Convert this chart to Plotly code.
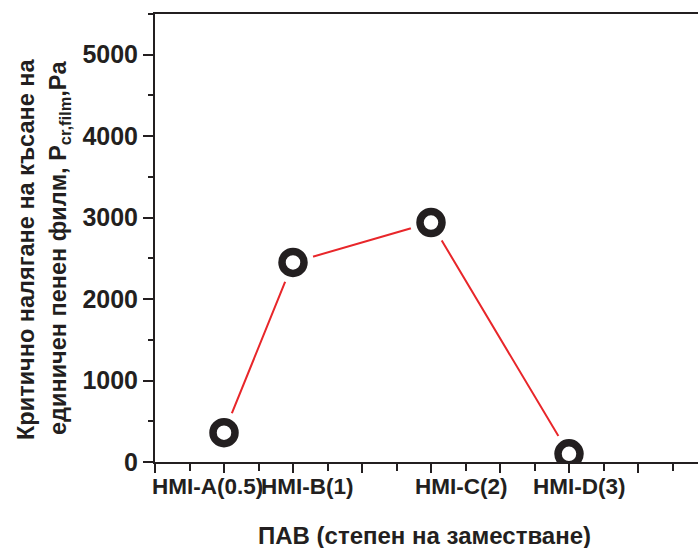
import plotly.graph_objects as go

# ---- data ----
categories = ["HMI-A(0.5)", "HMI-B(1)", "HMI-C(2)", "HMI-D(3)"]
substitution = [0.5, 1, 2, 3]
p_cr_film = [360, 2450, 2940, 100]

x_title = "ПАВ (степен на заместване)"
y_title_1 = "Критично налягане на късане на"
y_title_2 = "единичен пенен филм, P<sub>cr,film</sub>,Pa"

# ---- styling ----
W, H = 698, 548
ML, MR, MT, MB = 155, 0, 14, 86
INK = "#231f20"
RED = "#e8262a"
FONT = "Liberation Sans, Arial, sans-serif"
label_xshift = [-17, 14, 30, 10]

fig = go.Figure()
fig.add_trace(go.Scatter(x=substitution, y=p_cr_film, mode="lines",
                         line=dict(color=RED, width=2), hoverinfo="skip"))
# white halo to create the gap between line and markers
fig.add_trace(go.Scatter(x=substitution, y=p_cr_film, mode="markers",
                         marker=dict(size=42, color="white", line=dict(width=0)),
                         hoverinfo="skip"))
fig.add_trace(go.Scatter(x=substitution, y=p_cr_film, mode="markers",
                         marker=dict(size=22, color="white", symbol="circle",
                                     line=dict(width=7.5, color=INK))))

plot_w = W - ML - MR
px_per_unit = 138.0
x_max = plot_w / px_per_unit

fig.update_xaxes(range=[0, x_max], showgrid=False, zeroline=False,
                 showline=True, linecolor=INK, linewidth=2, mirror=True,
                 ticks="outside", tick0=0, dtick=0.5, ticklen=9, tickwidth=1.5,
                 tickcolor=INK, showticklabels=False,
                 minor=dict(ticks="outside", dtick=0.25, ticklen=7, tickwidth=1.5,
                            tickcolor=INK, showgrid=False))
fig.update_yaxes(range=[0, 5500], showgrid=False, zeroline=False,
                 showline=True, linecolor=INK, linewidth=2,
                 ticks="outside", tick0=0, dtick=1000, ticklen=10, tickwidth=1.5,
                 tickcolor=INK,
                 tickfont=dict(family=FONT, size=25, color=INK, weight="bold"),
                 minor=dict(ticks="outside", dtick=500, ticklen=5, tickwidth=1.5,
                            tickcolor=INK, showgrid=False))

annotations = []
for cat, xv, dx in zip(categories, substitution, label_xshift):
    annotations.append(dict(x=xv, xref="x", y=0, yref="paper", yanchor="top",
                            xanchor="center", xshift=dx, yshift=-10,
                            text=cat, showarrow=False,
                            font=dict(family=FONT, size=22.5, color=INK, weight="bold")))
annotations.append(dict(x=(424 - ML) / plot_w, xref="paper", y=0, yref="paper",
                        yanchor="middle", xanchor="center", yshift=-(535 - (H - MB)),
                        text=x_title, showarrow=False,
                        font=dict(family=FONT, size=24, color=INK, weight="bold")))
annotations.append(dict(x=0, xref="paper", y=0.5, yref="paper",
                        xanchor="center", yanchor="middle", xshift=-(ML - 26), yshift=-12,
                        text=y_title_1, textangle=-90, showarrow=False,
                        font=dict(family=FONT, size=23.5, color=INK, weight="bold")))
annotations.append(dict(x=0, xref="paper", y=0.5, yref="paper",
                        xanchor="center", yanchor="middle", xshift=-(ML - 59), yshift=-10,
                        text=y_title_2, textangle=-90, showarrow=False,
                        font=dict(family=FONT, size=23.5, color=INK, weight="bold")))

fig.update_layout(width=W, height=H, margin=dict(l=ML, r=MR, t=MT, b=MB),
                  paper_bgcolor="white", plot_bgcolor="white", showlegend=False,
                  annotations=annotations)

fig.write_html("out.html")
